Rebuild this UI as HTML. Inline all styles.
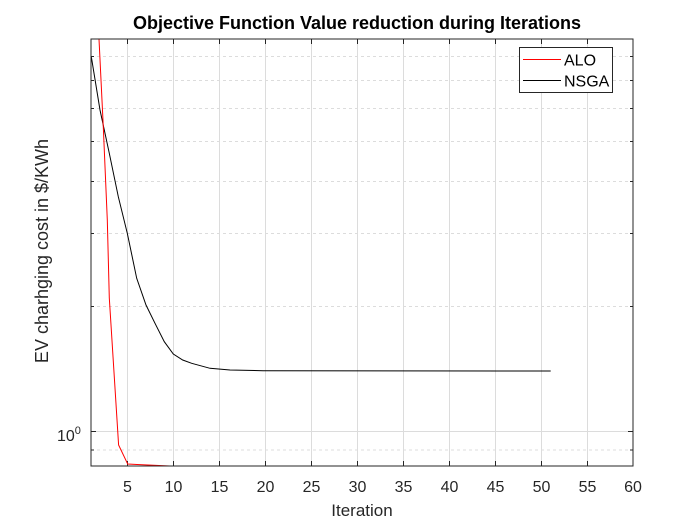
<!DOCTYPE html>
<html><head><meta charset="utf-8"><style>
html,body{margin:0;padding:0;background:#fff;}
svg{display:block;font-family:"Liberation Sans",Arial,sans-serif;}
</style></head><body>
<svg width="700" height="525" viewBox="0 0 700 525" xmlns="http://www.w3.org/2000/svg">
<rect width="700" height="525" fill="#fff"/>
<g stroke="#dcdcdc" stroke-width="1" stroke-dasharray="3,3">
<line x1="91" y1="450" x2="633" y2="450"/>
<line x1="91" y1="306.5" x2="633" y2="306.5"/>
<line x1="91" y1="233.5" x2="633" y2="233.5"/>
<line x1="91" y1="181.5" x2="633" y2="181.5"/>
<line x1="91" y1="141.5" x2="633" y2="141.5"/>
<line x1="91" y1="108.5" x2="633" y2="108.5"/>
<line x1="91" y1="80.5" x2="633" y2="80.5"/>
<line x1="91" y1="56.5" x2="633" y2="56.5"/>
</g>
<g stroke="#dcdcdc" stroke-width="1">
<line x1="91" y1="431.5" x2="633" y2="431.5"/>
<line x1="127.5" y1="39" x2="127.5" y2="466"/>
<line x1="173.5" y1="39" x2="173.5" y2="466"/>
<line x1="219.5" y1="39" x2="219.5" y2="466"/>
<line x1="265.5" y1="39" x2="265.5" y2="466"/>
<line x1="311.5" y1="39" x2="311.5" y2="466"/>
<line x1="357.5" y1="39" x2="357.5" y2="466"/>
<line x1="403.5" y1="39" x2="403.5" y2="466"/>
<line x1="449.5" y1="39" x2="449.5" y2="466"/>
<line x1="495.5" y1="39" x2="495.5" y2="466"/>
<line x1="541.5" y1="39" x2="541.5" y2="466"/>
<line x1="587.5" y1="39" x2="587.5" y2="466"/>
</g>
<g stroke="#262626" stroke-width="1">
<path d="M127.5 466v-5M173.5 466v-5M219.5 466v-5M265.5 466v-5M311.5 466v-5M357.5 466v-5M403.5 466v-5M449.5 466v-5M495.5 466v-5M541.5 466v-5M587.5 466v-5"/>
<path d="M127.5 39v5M173.5 39v5M219.5 39v5M265.5 39v5M311.5 39v5M357.5 39v5M403.5 39v5M449.5 39v5M495.5 39v5M541.5 39v5M587.5 39v5"/>
<path d="M91 431.5h5M633 431.5h-5"/>
<path d="M91 450h3M91 306.5h3M91 233.5h3M91 181.5h3M91 141.5h3M91 108.5h3M91 80.5h3M91 56.5h3"/>
<path d="M633 450h-3M633 306.5h-3M633 233.5h-3M633 181.5h-3M633 141.5h-3M633 108.5h-3M633 80.5h-3M633 56.5h-3"/>
</g>
<polyline fill="none" stroke="#000" stroke-width="1" points="91.3,56.7 100,110 109.3,153.3 118.3,196.7 127.3,233.3 136.7,278.3 146,305 155,323.3 164.3,341.7 173.3,354 182.7,360 191.7,363.3 210,368.3 230,370 263,370.7 550.7,371"/>
<polyline fill="none" stroke="#ff0000" stroke-width="1" points="99,39 103.3,127 107.3,220 109.3,298 118.6,445 127.7,464 137,464.5 170,466 633,466"/>
<rect x="91" y="39" width="542" height="427" fill="none" stroke="#262626" stroke-width="1"/>
<g font-size="16" fill="#262626" text-anchor="middle">
<text x="127.5" y="492">5</text><text x="173.5" y="492">10</text><text x="219.5" y="492">15</text>
<text x="265.5" y="492">20</text><text x="311.5" y="492">25</text><text x="357.5" y="492">30</text>
<text x="403.5" y="492">35</text><text x="449.5" y="492">40</text><text x="495.5" y="492">45</text>
<text x="541.5" y="492">50</text><text x="587.5" y="492">55</text><text x="633" y="492">60</text>
<text x="362" y="516" font-size="17">Iteration</text>
<text transform="translate(48,251) rotate(-90)" font-size="18">EV charhging cost in $/KWh</text>
</g>
<text x="57" y="441" font-size="16" fill="#262626">10<tspan font-size="11" dy="-7">0</tspan></text>
<text x="357" y="29" font-size="18" font-weight="bold" text-anchor="middle" fill="#000">Objective Function Value reduction during Iterations</text>
<rect x="519.5" y="47.5" width="93" height="45" fill="#fff" stroke="#262626" stroke-width="1"/>
<line x1="523" y1="59.5" x2="561" y2="59.5" stroke="#ff0000"/>
<line x1="523" y1="80.5" x2="561" y2="80.5" stroke="#000"/>
<text x="564" y="65.5" font-size="16" fill="#000">ALO</text>
<text x="564" y="86.5" font-size="16" fill="#000">NSGA</text>
</svg>
</body></html>
